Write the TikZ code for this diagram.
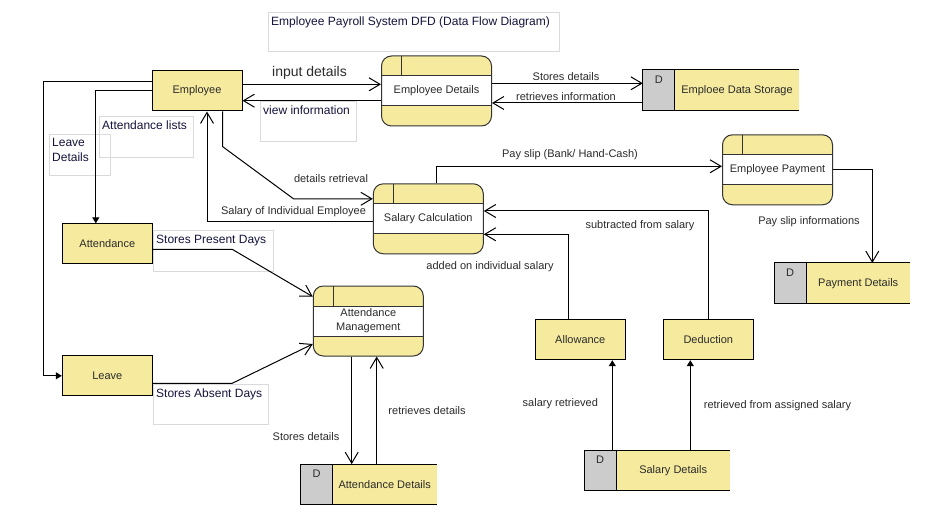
\documentclass[tikz,border=0pt]{standalone}
\usepackage{fontspec}
\setmainfont{Liberation Sans}
\usetikzlibrary{arrows.meta,calc}
\definecolor{yfill}{HTML}{F5EA9D}
\definecolor{dgray}{HTML}{CCCCCC}
\definecolor{pborder}{HTML}{333333}
\definecolor{lboxcol}{HTML}{DADADA}
\definecolor{navy}{HTML}{14143C}
\definecolor{ntextcol}{HTML}{2B2B2B}
\tikzset{
  ntext/.style={font=\fontsize{11}{14}\selectfont, text=ntextcol, inner sep=0pt, align=center},
  flowlab/.style={font=\fontsize{11}{14}\selectfont, text=ntextcol, inner sep=0pt},
  ent/.style={draw=black, line width=1pt, fill=yfill, minimum width=90pt, minimum height=40pt, inner sep=0pt, ntext},
  proc/.style={draw=pborder, line width=1pt, fill=yfill, rounded corners=10pt,
    minimum width=110pt, minimum height=70pt, inner sep=0pt, ntext,
    path picture={
      \begin{scope}[sharp corners]
        \fill[white] ($(path picture bounding box.center)+(-60,-15)$) rectangle ($(path picture bounding box.center)+(60,15)$);
        \draw[pborder, line width=1pt] ($(path picture bounding box.center)+(-60,-15)$) -- ++(120,0);
        \draw[pborder, line width=1pt] ($(path picture bounding box.center)+(-60,15)$) -- ++(120,0);
        \draw[pborder, line width=1pt] ($(path picture bounding box.center)+(-35,-40)$) -- ($(path picture bounding box.center)+(-35,-15)$);
      \end{scope}}},
  store/.style={fill=yfill, minimum height=40pt, inner sep=0pt,
    path picture={\fill[dgray] (path picture bounding box.north west) rectangle ($(path picture bounding box.south west)+(32,0)$);}},
  storeline/.style={draw=black, line width=1pt},
  dlab/.style={font=\fontsize{11}{14}\selectfont, text=ntextcol, inner sep=0pt},
  lbox/.style={draw=lboxcol, line width=0.8pt, inner sep=0pt, anchor=north west},
  ltext/.style={text=navy, font=\fontsize{12}{15}\selectfont, anchor=north west, inner xsep=3pt, inner ysep=4.5pt, align=left},
  flow/.style={draw=black, line width=1pt},
  oarrow/.style={flow, -{Straight Barb[length=11pt,width=13pt,line width=1pt]}},
  farrow/.style={flow, -{Triangle[length=6pt,width=7pt]}},
}
\newcommand\datastore[4]{%
  \node[store, minimum width=#3] (#1) at (#2) {};
  \draw[storeline] (#1.north east) -- (#1.north west) -- (#1.south west) -- (#1.south east);
  \draw[storeline] ($(#1.north west)+(32,0)$) -- ($(#1.south west)+(32,0)$);
  \node[dlab] (#1-d) at ($(#1.north west)+(16,10)$) {D};
  \node[ntext] (#1-t) at ($(#1.center)+(16,0.5)$) {#4};
}
\begin{document}
\begin{tikzpicture}[x=1pt,y=-1pt]
\useasboundingbox[fill=white] (0,0) rectangle (947,529);

% boxed labels
\node[lbox, minimum width=291pt, minimum height=39pt] (titlebox) at (268,12) {};
\node[ltext] (title) at (titlebox.north west) {Employee Payroll System DFD (Data Flow Diagram)};
\node[lbox, minimum width=96pt, minimum height=40pt] (viewbox) at (260,101) {};
\node[ltext] (viewlab) at (viewbox.north west) {view information};
\node[lbox, minimum width=94pt, minimum height=41pt] (attlbox) at (99,116) {};
\node[ltext] (attllab) at (attlbox.north west) {Attendance lists};
\node[lbox, minimum width=61pt, minimum height=41pt] (leavebox) at (49,134) {};
\node[ltext] (leavelab) at (leavebox.north west) {Leave\\Details};
\node[lbox, minimum width=120pt, minimum height=41pt] (presbox) at (153,230) {};
\node[ltext] (preslab) at (presbox.north west) {Stores Present Days};
\node[lbox, minimum width=115pt, minimum height=40pt] (absbox) at (153,384) {};
\node[ltext] (abslab) at (absbox.north west) {Stores Absent Days};

% entities
\node[ent] (emp) at (197,91) {Employee};
\node[ent] (att) at (107.3,243.8) {Attendance};
\node[ent] (leave) at (107.3,375.8) {Leave};
\node[ent] (allow) at (580.3,339.7) {Allowance};
\node[ent] (ded) at (708.3,339.7) {Deduction};

% processes
\node[proc] (ed) at (436.5,91) {Employee Details};
\node[proc] (sc) at (428.3,218.8) {Salary Calculation};
\node[proc] (ep) at (777.5,169.8) {Employee Payment};
\node[proc] (am) at (368.3,321) {Attendance\\Management};

% data stores
\datastore{eds}{721,90}{156pt}{Emploee Data Storage}
\datastore{pd}{842.2,283.2}{136pt}{Payment Details}
\datastore{sd}{657.2,470.3}{146pt}{Salary Details}
\datastore{ad}{368.7,484.3}{136pt}{Attendance Details}

% flows
\draw[oarrow] ($(emp.east)+(0,-6.7)$) -- ($(ed.west)+(0,-6.7)$);
\node[font=\fontsize{14}{16}\selectfont, text=ntextcol, inner sep=0pt] (inlab) at (309.5,72.5) {input details};
\draw[oarrow] ($(ed.west)+(0,9.7)$) -- ($(emp.east)+(0,9.7)$);

\draw[oarrow] ($(ed.east)+(0,-7.7)$) -- ($(eds.west)+(0,-6.7)$);
\node[flowlab] (sdlab) at (566,76.5) {Stores details};
\draw[oarrow] ($(eds.west)+(0,13)$) -- ($(ed.east)+(0,12)$);
\node[flowlab] (rilab) at (566,96.5) {retrieves information};

\draw[farrow] ($(emp.west)+(0,-9.3)$) -- ++(-108,0) |- (leave.west);
\draw[farrow] ($(emp.west)+(0,-0.3)$) -| ($(att.north west)+(34,0)$);

\draw[oarrow] ($(emp.south)+(25.7,0)$) -- ++(0,35.2) -- ($(sc.west)+(-79.3,-20)$) -- ($(sc.west)+(0,-20)$);
\node[flowlab] (drlab) at (331,178.5) {details retrieval};
\draw[oarrow] ($(sc.west)+(0,3.2)$) -| ($(emp.south)+(10,0)$);
\node[flowlab] (silab) at (293.5,211.5) {Salary of Individual Employee};

\draw[oarrow] ($(sc.north)+(8.4,0)$) |- ($(ep.west)+(0,-3.5)$);
\node[flowlab] (pslab) at (570,154.5) {Pay slip (Bank/ Hand-Cash)};
\draw[oarrow] ($(ep.east)+(0,-0.5)$) -| ($(pd.north)+(30.1,0)$);
\node[flowlab] (psilab) at (809,221.5) {Pay slip informations};

\draw[oarrow] (ded.north) |- ($(sc.east)+(0,-7.8)$);
\node[flowlab] (sublab) at (640,226) {subtracted from salary};
\draw[oarrow] ($(allow.north)+(-11.8,0)$) |- ($(sc.east)+(0,15.5)$);
\node[flowlab] (addlab) at (490,267) {added on individual salary};

\draw[farrow] ($(sd.north)+(-44.9,0)$) -- ($(allow.south)+(32,0)$);
\node[flowlab] (srlab) at (560.3,403.8) {salary retrieved};
\draw[farrow] ($(sd.north)+(33.1,0)$) -- ($(ded.south)+(-18,0)$);
\node[flowlab] (rflab) at (777.5,405.8) {retrieved from assigned salary};

\draw[oarrow] ($(att.east)+(0,5.5)$) -- ++(79.4,0) -- ($(am.west)+(0,-24.3)$);
\draw[oarrow] ($(leave.east)+(0,7.5)$) -- ++(79.4,0) -- ($(am.west)+(0,23)$);

\draw[oarrow] ($(am.south)+(-16.6,0)$) -- ($(ad.north)+(-17,0)$);
\node[flowlab] (sdlab2) at (306,436.5) {Stores details};
\draw[oarrow] ($(ad.north)+(8,0)$) -- ($(am.south)+(8.4,0)$);
\node[flowlab] (rdlab) at (427,410.8) {retrieves details};
\end{tikzpicture}
\end{document}
